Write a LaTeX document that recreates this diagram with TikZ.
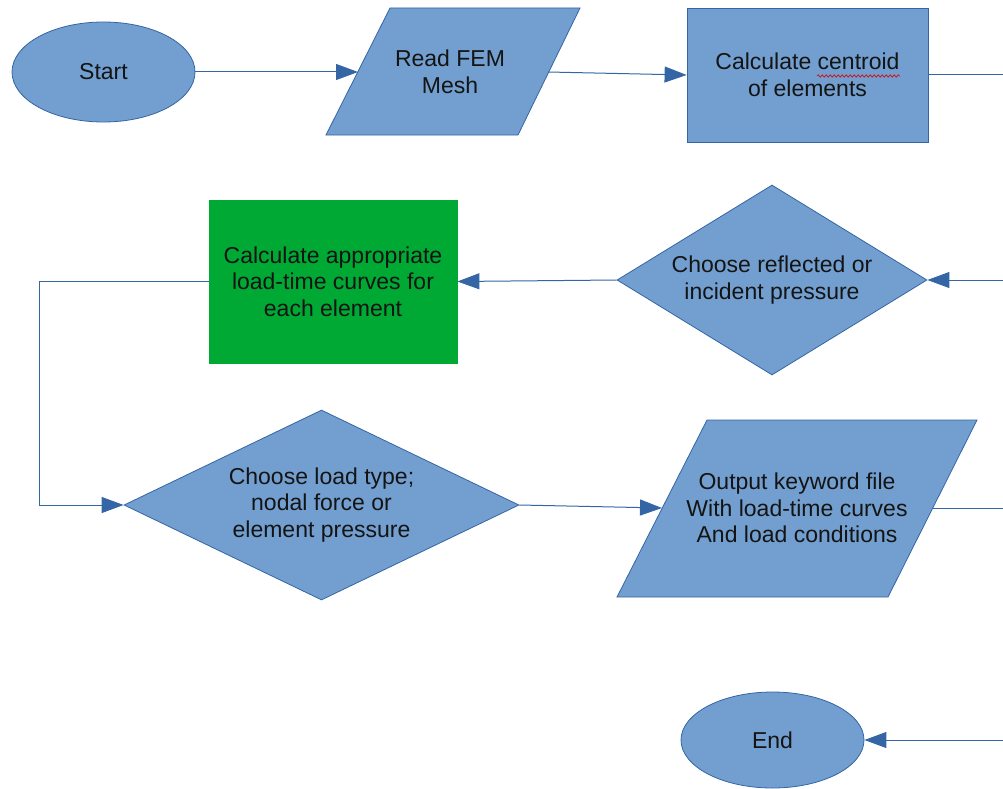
\documentclass[tikz,border=0pt]{standalone}
\usepackage{fontspec}
\setmainfont{Liberation Sans}
\usetikzlibrary{shapes.geometric,arrows.meta,decorations.pathmorphing}
\definecolor{fillblue}{HTML}{729FCF}
\definecolor{lineblue}{HTML}{3465A4}
\definecolor{boxgreen}{HTML}{00A933}
\begin{document}
\begin{tikzpicture}[x=1pt,y=-1pt,
  shp/.style={draw=lineblue, line width=0.8pt, fill=fillblue},
  txt/.style={align=center, font=\fontsize{23}{26.5}\selectfont, text=black!92},
  conn/.style={draw=lineblue, line width=1pt},
  arr/.style={conn, -{Triangle[length=22pt,width=16pt]}}]
\useasboundingbox (0,0) rectangle (1003,789);

% Start
\node[shp, ellipse, minimum width=183pt, minimum height=100pt, inner sep=0pt, txt] (start) at (103.5,72) {Start};

% Read FEM Mesh (parallelogram)
\path[shp] (390,8) -- (580,8) -- (518,135) -- (326,135) -- cycle;
\node[txt] (read) at (450,72) {Read FEM\\Mesh};
\coordinate (readL) at (358,72);
\coordinate (readR) at (548,72);

% Calculate centroid
\node[shp, rectangle, minimum width=241pt, minimum height=134pt, inner sep=0pt, txt] (cent) at (807.5,75) {Calculate centroid\\of elements};
\draw[red!85!black, line width=0.6pt, decorate, decoration={snake, amplitude=1.2pt, segment length=4pt}] (817,76) -- (900,76);

% Choose reflected or incident pressure
\node[shp, diamond, aspect=1.63, minimum width=310pt, minimum height=190pt, inner sep=0pt, txt] (refl) at (772,280) {Choose reflected or\\incident pressure};

% Calculate appropriate load-time curves
\node[draw=boxgreen, fill=boxgreen, line width=0.8pt, rectangle, minimum width=248pt, minimum height=163pt, inner sep=0pt, txt] (calc) at (333,281.5) {Calculate appropriate\\load-time curves for\\each element};

% Choose load type
\node[shp, diamond, aspect=2.08, minimum width=395pt, minimum height=190pt, inner sep=0pt, txt] (load) at (321.5,505) {Choose load type;\\nodal force or\\element pressure};

% Output keyword file (parallelogram)
\path[shp] (707,420) -- (977,420) -- (888,597) -- (617,597) -- cycle;
\node[txt] (out) at (797,508) {Output keyword file\\With load-time curves\\And load conditions};
\coordinate (outL) at (662,508);
\coordinate (outR) at (933,508);

% End
\node[shp, ellipse, minimum width=183pt, minimum height=96pt, inner sep=0pt, txt] (end) at (772.5,740) {End};

% free ends at the right edge
\coordinate (e1) at (1003,75);
\coordinate (e2) at (1003,280);
\coordinate (e3) at (1003,508);
\coordinate (e4) at (1003,740);
\coordinate (loopx) at (39.5,0);

% connectors
\draw[arr] (start.east) -- (readL);
\draw[arr] (readR) -- (cent.west);
\draw[conn] (cent.east) -- (e1);
\draw[arr] (e2) -- (refl.east);
\draw[arr] (refl.west) -- (calc.east);
\draw[arr] (calc.west) -- (calc.west -| loopx) |- (load.west);
\draw[arr] (load.east) -- (outL);
\draw[conn] (outR) -- (e3);
\draw[arr] (e4) -- (end.east);
\end{tikzpicture}
\end{document}
